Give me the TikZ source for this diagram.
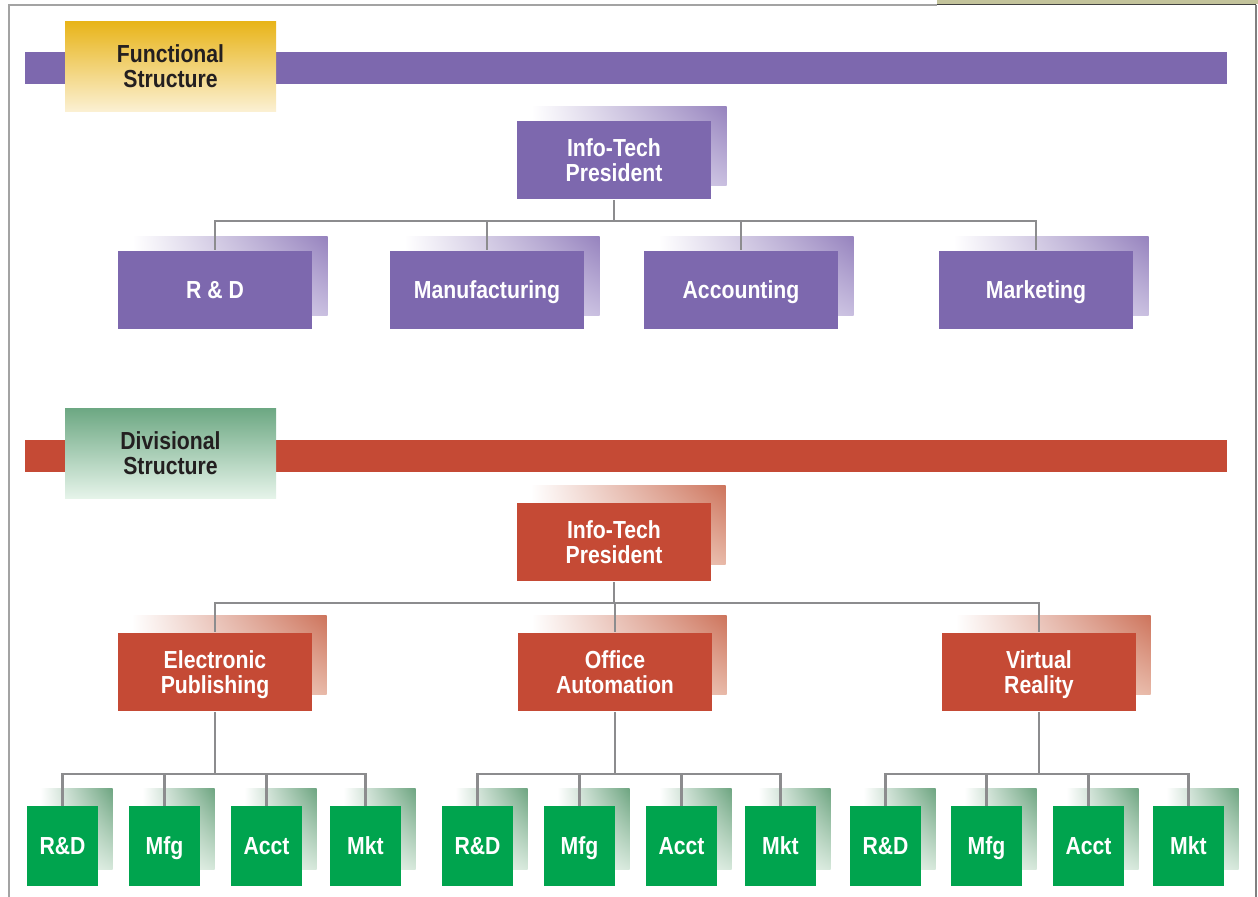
\documentclass[tikz,border=0pt]{standalone}
\usepackage{fontspec}
\setmainfont{Liberation Sans}[FakeStretch=0.86]
\usetikzlibrary{backgrounds,shadings}

\definecolor{funcpurple}{HTML}{7D68AE}
\definecolor{funcshadow}{HTML}{9683BE}
\definecolor{funcshadowlt}{HTML}{C9BFE0}
\definecolor{divred}{HTML}{C54A35}
\definecolor{divshadow}{HTML}{CD745C}
\definecolor{divshadowlt}{HTML}{E8B9A8}
\definecolor{unitgreen}{HTML}{00A44E}
\definecolor{unitshadow}{HTML}{6EA581}
\definecolor{unitshadowlt}{HTML}{D6E8DB}
\definecolor{taggold}{HTML}{E8B418}
\definecolor{taggoldlt}{HTML}{FBF0D2}
\definecolor{taggreen}{HTML}{6DA883}
\definecolor{taggreenlt}{HTML}{E6F4EA}
\definecolor{tagtext}{HTML}{231F20}
\definecolor{linkgray}{HTML}{8C8C8E}
\definecolor{framegray}{HTML}{A3A3A3}
\definecolor{stripolive}{HTML}{C3C39B}

\tikzset{every picture/.style={line width=0.75pt}}

% shadow behind a box: node, style, offset
\newcommand{\boxshade}[3]{\shade[#2] ([shift={(#3)}]#1.south west) rectangle ([shift={(#3)}]#1.north east);}

\begin{document}
\begin{tikzpicture}[x=0.75pt,y=0.75pt,yscale=-1,xscale=1,
    boxfont/.style={font=\bfseries\fontsize{18.5}{18.75}\selectfont, text depth=0pt},
    oneline/.style={text height=13.3pt},
    funcbox/.style={fill=funcpurple, text=white, boxfont, align=center, inner sep=0pt, minimum width=145.5pt, minimum height=59pt},
    divbox/.style={fill=divred, text=white, boxfont, align=center, inner sep=0pt, minimum width=145.5pt, minimum height=59pt},
    unitbox/.style={fill=unitgreen, text=white, boxfont, oneline, align=center, inner sep=0pt, minimum width=53.25pt, minimum height=60pt},
    tagbox/.style={text=tagtext, boxfont, align=center, inner sep=0pt, minimum width=158.25pt, minimum height=67.5pt},
    funcshade/.style={upper left=white, lower left=white, upper right=funcshadow, lower right=funcshadowlt},
    divshade/.style={upper left=white, lower left=white, upper right=divshadow, lower right=divshadowlt},
    unitshade/.style={upper left=white, lower left=white, upper right=unitshadow, lower right=unitshadowlt},
    link/.style={draw=linkgray, line width=2pt}]
        \useasboundingbox (0,0) rectangle (1258,897);

        % Page frame
        \fill[stripolive] (937,0) rectangle (1258,4);
        \draw[black!75, line width=1pt] (937,4.5) -- (1256,4.5);
        \draw[framegray, line width=1.5pt] (8.5,897) -- (8.5,5) -- (937,5);
        \draw[gray, line width=1.2pt] (1256,4.5) -- (1256,897);

        % Functional structure
        \fill[funcpurple] (25,52) rectangle (1227,84);
        \node[tagbox, top color=taggold, bottom color=taggoldlt] (functag) at (170.5,66) {Functional\\Structure};

        \node[funcbox] (fpres) at (614,160) {Info-Tech\\President};
        \node[funcbox, oneline] (frd) at (215,290) {R \& D};
        \node[funcbox, oneline] (fmfg) at (487,290) {Manufacturing};
        \node[funcbox, oneline] (facct) at (741,290) {Accounting};
        \node[funcbox, oneline] (fmkt) at (1036,290) {Marketing};
        \coordinate (fbus) at (614,221);

        % Divisional structure
        \fill[divred] (25,440) rectangle (1227,472);
        \node[tagbox, top color=taggreen, bottom color=taggreenlt] (divtag) at (170.5,453.5) {Divisional\\Structure};

        \node[divbox] (dpres) at (614,542) {Info-Tech\\President};
        \node[divbox] (dep) at (215,672) {Electronic\\Publishing};
        \node[divbox] (doa) at (615,672) {Office\\Automation};
        \node[divbox] (dvr) at (1039,672) {Virtual\\Reality};
        \coordinate (dbus) at (614,603);

        % Units under Electronic Publishing
        \node[unitbox] (eprd) at (62.5,846) {R\&D};
        \node[unitbox] (epmfg) at (164.5,846) {Mfg};
        \node[unitbox] (epacct) at (266.5,846) {Acct};
        \node[unitbox] (epmkt) at (365.5,846) {Mkt};
        \coordinate (epbus) at (215,774);
        % Units under Office Automation
        \node[unitbox] (oard) at (477.5,846) {R\&D};
        \node[unitbox] (oamfg) at (579.5,846) {Mfg};
        \node[unitbox] (oaacct) at (681.5,846) {Acct};
        \node[unitbox] (oamkt) at (780.5,846) {Mkt};
        \coordinate (oabus) at (615,774);
        % Units under Virtual Reality
        \node[unitbox] (vrrd) at (885.5,846) {R\&D};
        \node[unitbox] (vrmfg) at (986.5,846) {Mfg};
        \node[unitbox] (vracct) at (1088.5,846) {Acct};
        \node[unitbox] (vrmkt) at (1188.5,846) {Mkt};
        \coordinate (vrbus) at (1039,774);

        \begin{pgfonlayer}{background}
            % Shadows
            \boxshade{fpres}{funcshade}{15,-14}
            \boxshade{frd}{funcshade}{15,-14}
            \boxshade{fmfg}{funcshade}{15,-14}
            \boxshade{facct}{funcshade}{15,-14}
            \boxshade{fmkt}{funcshade}{15,-14}
            \boxshade{dpres}{divshade}{14,-17}
            \boxshade{dep}{divshade}{14,-17}
            \boxshade{doa}{divshade}{14,-17}
            \boxshade{dvr}{divshade}{14,-17}
            \boxshade{eprd}{unitshade}{14,-17}
            \boxshade{epmfg}{unitshade}{14,-17}
            \boxshade{epacct}{unitshade}{14,-17}
            \boxshade{epmkt}{unitshade}{14,-17}
            \boxshade{oard}{unitshade}{14,-17}
            \boxshade{oamfg}{unitshade}{14,-17}
            \boxshade{oaacct}{unitshade}{14,-17}
            \boxshade{oamkt}{unitshade}{14,-17}
            \boxshade{vrrd}{unitshade}{14,-17}
            \boxshade{vrmfg}{unitshade}{14,-17}
            \boxshade{vracct}{unitshade}{14,-17}
            \boxshade{vrmkt}{unitshade}{14,-17}

            % Connectors
            \draw[link] (fpres.south) -- (fbus);
            \draw[link] (fbus) -| (frd.north);
            \draw[link] (fbus) -| (fmfg.north);
            \draw[link] (fbus) -| (facct.north);
            \draw[link] (fbus) -| (fmkt.north);

            \draw[link] (dpres.south) -- (dbus);
            \draw[link] (dbus) -| (dep.north);
            \draw[link] (dbus) -| (doa.north);
            \draw[link] (dbus) -| (dvr.north);

            \draw[link] (dep.south) -- (epbus);
            \draw[link] (epbus) -| (eprd.north);
            \draw[link] (epbus) -| (epmfg.north);
            \draw[link] (epbus) -| (epacct.north);
            \draw[link] (epbus) -| (epmkt.north);

            \draw[link] (doa.south) -- (oabus);
            \draw[link] (oabus) -| (oard.north);
            \draw[link] (oabus) -| (oamfg.north);
            \draw[link] (oabus) -| (oaacct.north);
            \draw[link] (oabus) -| (oamkt.north);

            \draw[link] (dvr.south) -- (vrbus);
            \draw[link] (vrbus) -| (vrrd.north);
            \draw[link] (vrbus) -| (vrmfg.north);
            \draw[link] (vrbus) -| (vracct.north);
            \draw[link] (vrbus) -| (vrmkt.north);
        \end{pgfonlayer}

    \end{tikzpicture}
\end{document}
